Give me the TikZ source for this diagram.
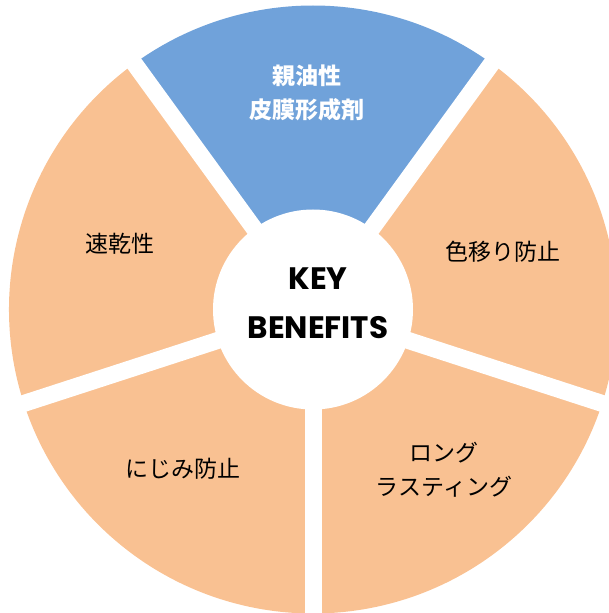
\documentclass[tikz,border=0pt]{standalone}
\usepackage{fontspec}
\newfontfamily\jpfont{Noto Sans CJK JP}
\newfontfamily\keyfont{Poppins}
\definecolor{wedgeorange}{HTML}{F9C192}
\definecolor{wedgeblue}{HTML}{70A2DA}
\tikzset{
  wedgelabel/.style={font=\jpfont\fontsize{23}{34.5}\selectfont, text=black, align=center, inner sep=0pt},
  bluelabel/.style={font=\jpfont\bfseries\fontsize{23}{34}\selectfont, text=white, align=center, inner sep=0pt},
  keylabel/.style={font=\keyfont\bfseries\fontsize{31}{49}\selectfont, text=black, align=center, inner sep=0pt},
  gapline/.style={white, line width=17pt}
}
\begin{document}
\begin{tikzpicture}[x=1pt,y=1pt]
\def\R{304}
\useasboundingbox (-313,-303.5) rectangle (296,309.5);
\clip (-313,-303.5) rectangle (296,309.5);
% wedges
\fill[wedgeblue]   (0,0) -- (54:\R)  arc[start angle=54,  end angle=126, radius=\R] -- cycle;
\fill[wedgeorange] (0,0) -- (126:\R) arc[start angle=126, end angle=198, radius=\R] -- cycle;
\fill[wedgeorange] (0,0) -- (198:\R) arc[start angle=198, end angle=270, radius=\R] -- cycle;
\fill[wedgeorange] (0,0) -- (270:\R) arc[start angle=270, end angle=342, radius=\R] -- cycle;
\fill[wedgeorange] (0,0) -- (342:\R) arc[start angle=342, end angle=414, radius=\R] -- cycle;
% gaps
\foreach \a in {54,126,198,270,342} {
  \draw[gapline] (0,0) -- (\a:340);
}
% centre disc
\fill[white] (0,0) circle (100);
% labels
\node[keylabel] (key) at (5,6) {KEY\\BENEFITS};
\node[bluelabel] (b1) at (-6,216.6) {親油性\\皮膜形成剤};
\node[wedgelabel] (b2) at (-193,65.5) {速乾性};
\node[wedgelabel] (b3) at (190,57.5) {色移り防止};
\node[wedgelabel] (b4) at (-130,-159.5) {にじみ防止};
\node[wedgelabel] (b5) at (131,-160) {ロング\\ラスティング};
\end{tikzpicture}
\end{document}
